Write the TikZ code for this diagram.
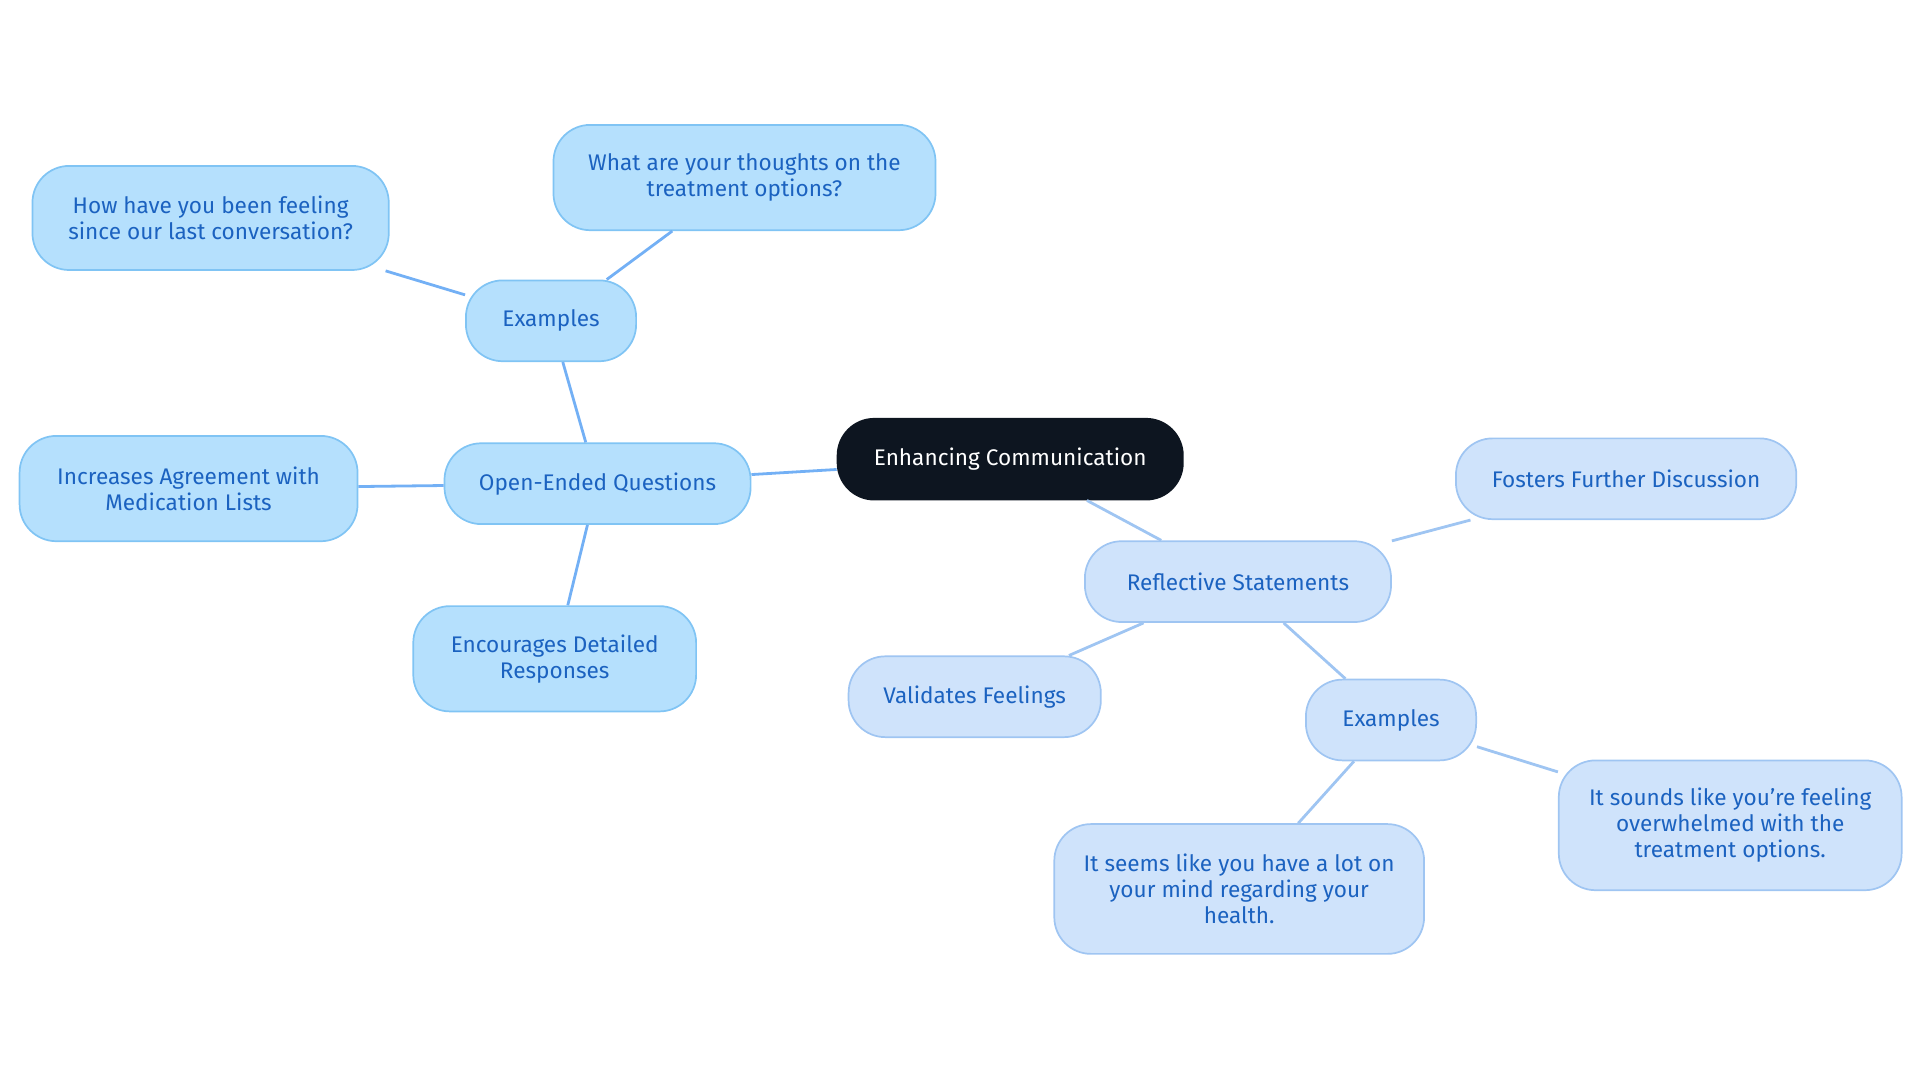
\documentclass[tikz,border=0pt]{standalone}
\usepackage{fontspec}
\setmainfont{Fira Sans}
\definecolor{bfill}{HTML}{B5E0FD}
\definecolor{bdraw}{HTML}{80C4F4}
\definecolor{rfill}{HTML}{CFE3FB}
\definecolor{rdraw}{HTML}{9FC5F2}
\definecolor{txt}{HTML}{1B62C0}
\definecolor{cfill}{HTML}{0D1520}
\begin{document}
\begin{tikzpicture}[x=0.02cm,y=-0.02cm,
 base/.style={rounded corners=0.6cm,align=center,font=\fontsize{10.5}{12}\selectfont,inner sep=0pt,line width=0.8pt},
 bl/.style={base,fill=bfill,draw=bdraw,text=txt},
 rb/.style={base,fill=rfill,draw=rdraw,text=txt},
 ctr/.style={base,fill=cfill,draw=cfill,text=white},
 eb/.style={draw=bdraw!90!blue,line width=1.3pt},
 er/.style={draw=rdraw,line width=1.3pt}]
\useasboundingbox (0,0) rectangle (1568,884.4);
\node[ctr,minimum width=282*0.02cm,minimum height=66*0.02cm] (c) at (825,375) {Enhancing Communication};
\node[bl,minimum width=250*0.02cm,minimum height=66*0.02cm] (oeq) at (488,395) {Open-Ended Questions};
\node[bl,minimum width=139*0.02cm,minimum height=66*0.02cm] (ex1) at (450,262) {Examples};
\node[bl,minimum width=291*0.02cm,minimum height=85*0.02cm] (how) at (172,178) {How have you been feeling\\since our last conversation?};
\node[bl,minimum width=312*0.02cm,minimum height=86*0.02cm] (what) at (608,145) {What are your thoughts on the\\treatment options?};
\node[bl,minimum width=276*0.02cm,minimum height=86*0.02cm] (inc) at (154,399) {Increases Agreement with\\Medication Lists};
\node[bl,minimum width=231*0.02cm,minimum height=86*0.02cm] (enc) at (453,538) {Encourages Detailed\\Responses};
\node[rb,minimum width=250*0.02cm,minimum height=66*0.02cm] (rs) at (1011,475) {Reflective Statements};
\node[rb,minimum width=278*0.02cm,minimum height=66*0.02cm] (fos) at (1328,391) {Fosters Further Discussion};
\node[rb,minimum width=206*0.02cm,minimum height=66*0.02cm] (val) at (796,569) {Validates Feelings};
\node[rb,minimum width=139*0.02cm,minimum height=66*0.02cm] (ex2) at (1136,588) {Examples};
\node[rb,minimum width=280*0.02cm,minimum height=106*0.02cm] (snd) at (1413,674) {It sounds like you're feeling\\overwhelmed with the\\treatment options.};
\node[rb,minimum width=302*0.02cm,minimum height=106*0.02cm] (sms) at (1012,726) {It seems like you have a lot on\\your mind regarding your\\health.};
\begin{scope}[on background layer/.style={}]
\end{scope}
\draw[eb] (c) -- (oeq);
\draw[eb] (oeq) -- (ex1);
\draw[eb] (ex1) -- (how);
\draw[eb] (ex1) -- (what);
\draw[eb] (oeq) -- (inc);
\draw[eb] (oeq) -- (enc);
\draw[er] (c) -- (rs);
\draw[er] (rs) -- (fos);
\draw[er] (rs) -- (val);
\draw[er] (rs) -- (ex2);
\draw[er] (ex2) -- (snd);
\draw[er] (ex2) -- (sms);
\end{tikzpicture}
\end{document}
